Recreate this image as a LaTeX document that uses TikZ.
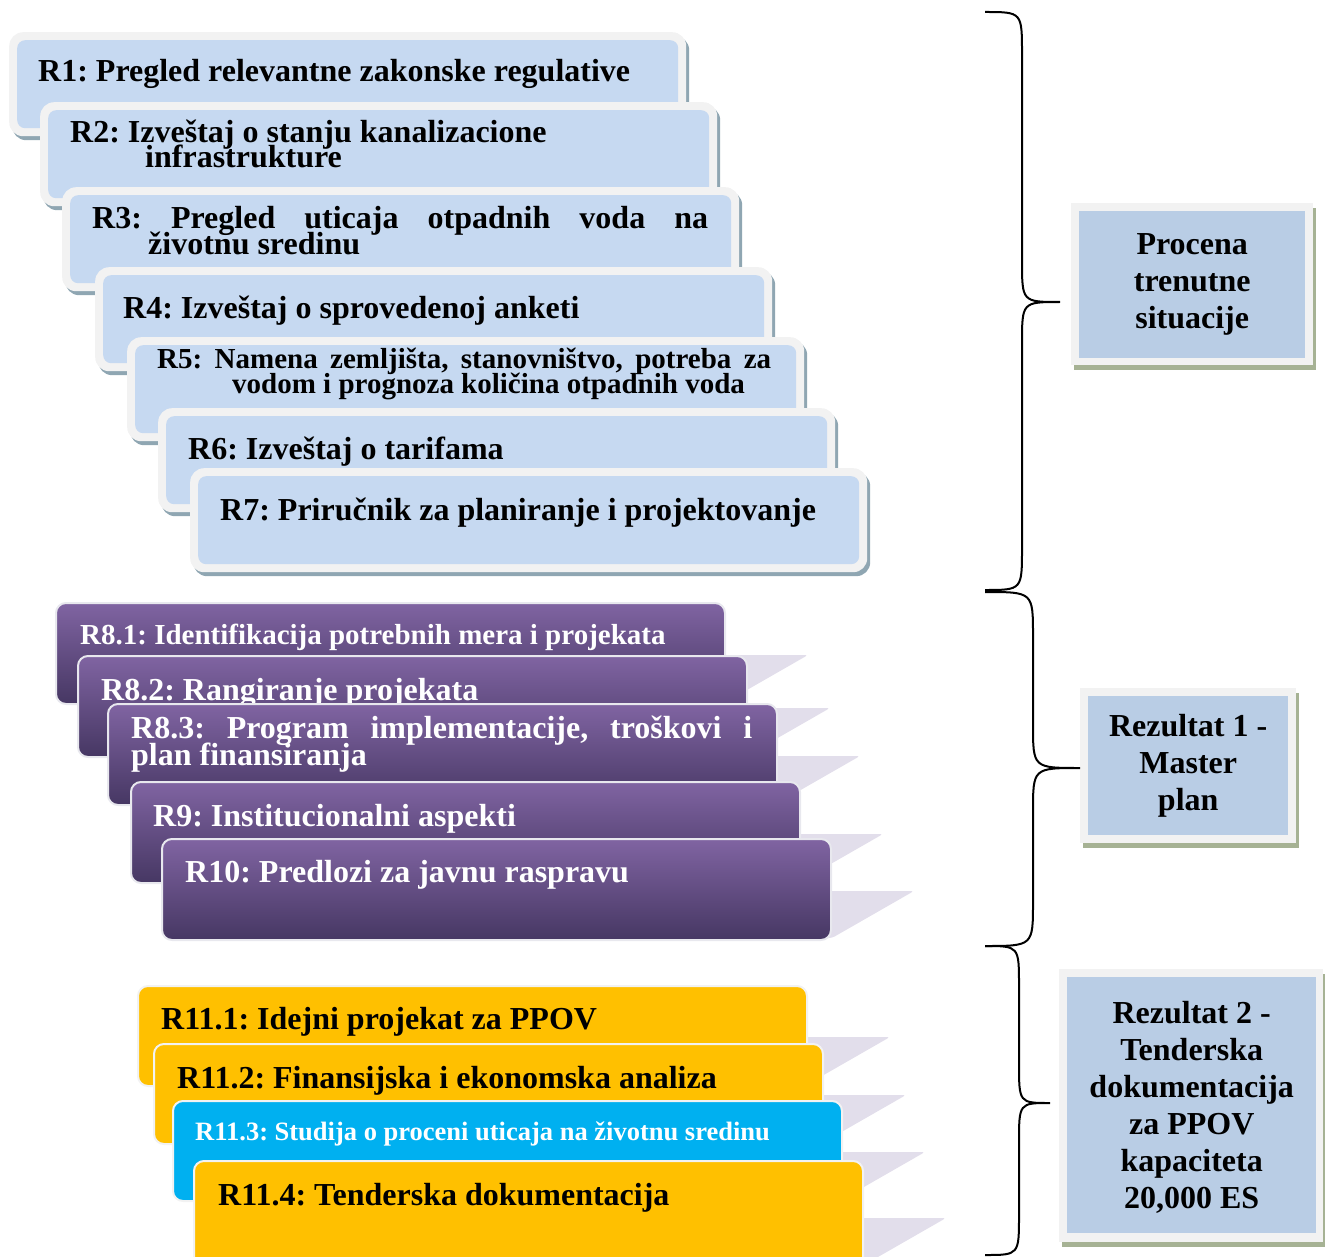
\documentclass[tikz,border=0pt]{standalone}
\usepackage{fontspec}
\setmainfont{Liberation Serif}
\usetikzlibrary{shadows,backgrounds}
\definecolor{cFrame}{HTML}{F2F2F2}
\definecolor{cBlue}{HTML}{C6D9F1}
\definecolor{cBlueShadow}{HTML}{8FA6B2}
\definecolor{cRight}{HTML}{B9CDE5}
\definecolor{cRightShadow}{HTML}{A6B294}
\definecolor{cPurT}{HTML}{8064A2}
\definecolor{cPurB}{HTML}{463763}
\definecolor{cPurBorder}{HTML}{E8E8EE}
\definecolor{cLav}{HTML}{E2DEEB}
\definecolor{cOrange}{HTML}{FFC000}
\definecolor{cCyan}{HTML}{00B0F0}
\newcommand\myBlueBox[3]{%
  \node[bframe, anchor=north west] (#1f) at (#2,#3) {};
  \node[binner, anchor=north west] (#1) at ([xshift=8pt,yshift=-8pt]#1f.north west) {};
}
\frenchspacing
\begin{document}
\frenchspacing
\begin{tikzpicture}[x=1pt,y=-1pt,
  bframe/.style={minimum width=677pt, minimum height=104pt, inner sep=0pt, fill=cFrame,
    rounded corners=14pt, general shadow={fill=cBlueShadow, shadow xshift=3pt, shadow yshift=-4pt}},
  binner/.style={minimum width=661pt, minimum height=88pt, inner sep=0pt, fill=cBlue, rounded corners=8pt},
  pbox/.style={minimum width=669pt, minimum height=101pt, inner sep=0pt, rounded corners=10pt,
    top color=cPurT, bottom color=cPurB, draw=cPurBorder, line width=2pt},
  obox/.style={minimum width=669pt, minimum height=100pt, inner sep=0pt, rounded corners=10pt,
    fill=cOrange, draw=cFrame, line width=2pt},
  rframe/.style={inner sep=0pt, fill=cFrame, general shadow={fill=cRightShadow, shadow xshift=3pt, shadow yshift=-5pt}},
  rinner/.style={inner sep=0pt, fill=cRight},
  txt/.style={anchor=base west, inner sep=0pt, font=\fontsize{32}{37}\selectfont\bfseries\frenchspacing},
  txts/.style={anchor=base west, inner sep=0pt, font=\fontsize{29}{33}\selectfont\bfseries\frenchspacing},
  rtxt/.style={align=center, inner sep=0pt, font=\fontsize{32}{37}\selectfont\bfseries},
  bracestyle/.style={line width=2pt, black}
]
\useasboundingbox (0,0) rectangle (1325,1257);

% ---- blue boxes
\myBlueBox{r1}{9}{32}
\node[txt] (r1t) at (38,82) {R1: Pregled relevantne zakonske regulative};
\myBlueBox{r2}{40}{102}
\node[txt] (r2ta) at (70,143) {R2: Izveštaj o stanju kanalizacione};
\node[txt] (r2tb) at (145,168) {infrastrukture};
\myBlueBox{r3}{62}{187}
\node[txt] (r3ta) at (92,229) {\makebox[616pt][s]{R3: Pregled uticaja otpadnih voda na}};
\node[txt] (r3tb) at (148,255) {životnu sredinu};
\myBlueBox{r4}{95}{267}
\node[txt] (r4t) at (123,319) {R4: Izveštaj o sprovedenoj anketi};
\myBlueBox{r5}{127}{337}
\node[txts] (r5ta) at (157,368) {\makebox[614pt][s]{R5: Namena zemljišta, stanovništvo, potreba za}};
\node[txts] (r5tb) at (232,393) {vodom i prognoza količina otpadnih voda};
\myBlueBox{r6}{158}{408}
\node[txt] (r6t) at (188,459) {R6: Izveštaj o tarifama};
\myBlueBox{r7}{190}{468}
\node[txt] (r7t) at (220,520) {R7: Priručnik za planiranje i projektovanje};

% ---- purple boxes
\node[pbox, anchor=north west] (r81) at (55,602) {};
\node[txts, white] (r81t) at (80,644) {R8.1: Identifikacija potrebnih mera i projekata};
\node[pbox, anchor=north west] (r82) at (77,655) {};
\node[txt, white] (r82t) at (101,700) {R8.2: Rangiranje projekata};
\node[pbox, anchor=north west] (r83) at (107,703) {};
\node[txt, white] (r83ta) at (131,738) {\makebox[621pt][s]{R8.3: Program implementacije, troškovi i}};
\node[txt, white] (r83tb) at (131,765) {plan finansiranja};
\node[pbox, anchor=north west] (r9) at (130,781) {};
\node[txt, white] (r9t) at (153,826) {R9: Institucionalni aspekti};
\node[pbox, anchor=north west] (r10) at (161,838) {};
\node[txt, white] (r10t) at (185,882) {R10: Predlozi za javnu raspravu};

% ---- orange / cyan boxes
\node[obox, anchor=north west] (r111) at (137,985) {};
\node[txt] (r111t) at (161,1029) {R11.1: Idejni projekat za PPOV};
\node[obox, anchor=north west] (r112) at (153,1043) {};
\node[txt] (r112t) at (177,1088) {R11.2: Finansijska i ekonomska analiza};
\node[obox, fill=cCyan, anchor=north west] (r113) at (172,1100) {};
\node[anchor=base west, inner sep=0pt, font=\fontsize{26.5}{30}\selectfont\bfseries\frenchspacing, white] (r113t) at (195,1140) {R11.3: Studija o proceni uticaja na životnu sredinu};
\node[obox, minimum height=106pt, anchor=north west] (r114) at (193,1160) {};
\node[txt] (r114t) at (218,1205) {R11.4: Tenderska dokumentacija};

% ---- lavender reflections behind boxes
\begin{pgfonlayer}{background}
\foreach \n in {r81,r82,r83,r9,r10,r111,r112,r113,r114}{
  \fill[cLav, rounded corners=3pt] ([xshift=-10pt,yshift=50pt]\n.south east) -- ([xshift=82pt,yshift=50pt]\n.south east)
     -- ([yshift=3pt]\n.south east) -- ([xshift=-10pt,yshift=3pt]\n.south east) -- cycle;
}
\end{pgfonlayer}

% ---- right boxes
\node[rframe, minimum width=242pt, minimum height=162pt, anchor=north west] (pcf) at (1071,203) {};
\node[rinner, minimum width=226pt, minimum height=147pt, anchor=north west] (pc) at (1079,211) {};
\node[rtxt] (pct) at (pc.center) {Procena\\trenutne\\situacije};

\node[rframe, minimum width=216pt, minimum height=155pt, anchor=north west] (rz1f) at (1080,688) {};
\node[rinner, minimum width=200pt, minimum height=139pt, anchor=north west] (rz1) at (1088,696) {};
\node[rtxt] (rz1t) at (rz1.center) {Rezultat 1 -\\Master\\plan};

\node[rframe, minimum width=264pt, minimum height=273pt, anchor=north west] (rz2f) at (1059,969) {};
\node[rinner, minimum width=249pt, minimum height=256pt, anchor=north west] (rz2) at (1067,977) {};
\node[rtxt] (rz2t) at ([yshift=-2pt]rz2.center) {Rezultat 2 -\\Tenderska\\dokumentacija\\za PPOV\\kapaciteta\\20,000 ES};

% ---- braces
\draw[bracestyle] (985,12) .. controls (1022,12) .. (1022,54) -- (1022,260)
  .. controls (1022,302) .. (1060,302) .. controls (1022,302) .. (1022,344) -- (1022,548)
  .. controls (1022,590) .. (985,590);
\draw[bracestyle] (985,592) .. controls (1033,592) .. (1033,636) -- (1033,724)
  .. controls (1033,768) .. (1080,768) .. controls (1033,768) .. (1033,812) -- (1033,902)
  .. controls (1033,946) .. (985,946);
\draw[bracestyle] (985,946) .. controls (1019,946) .. (1019,986) -- (1019,1063)
  .. controls (1019,1103) .. (1050,1103) .. controls (1019,1103) .. (1019,1143) -- (1019,1215)
  .. controls (1019,1255) .. (985,1255);
\end{tikzpicture}
\end{document}
